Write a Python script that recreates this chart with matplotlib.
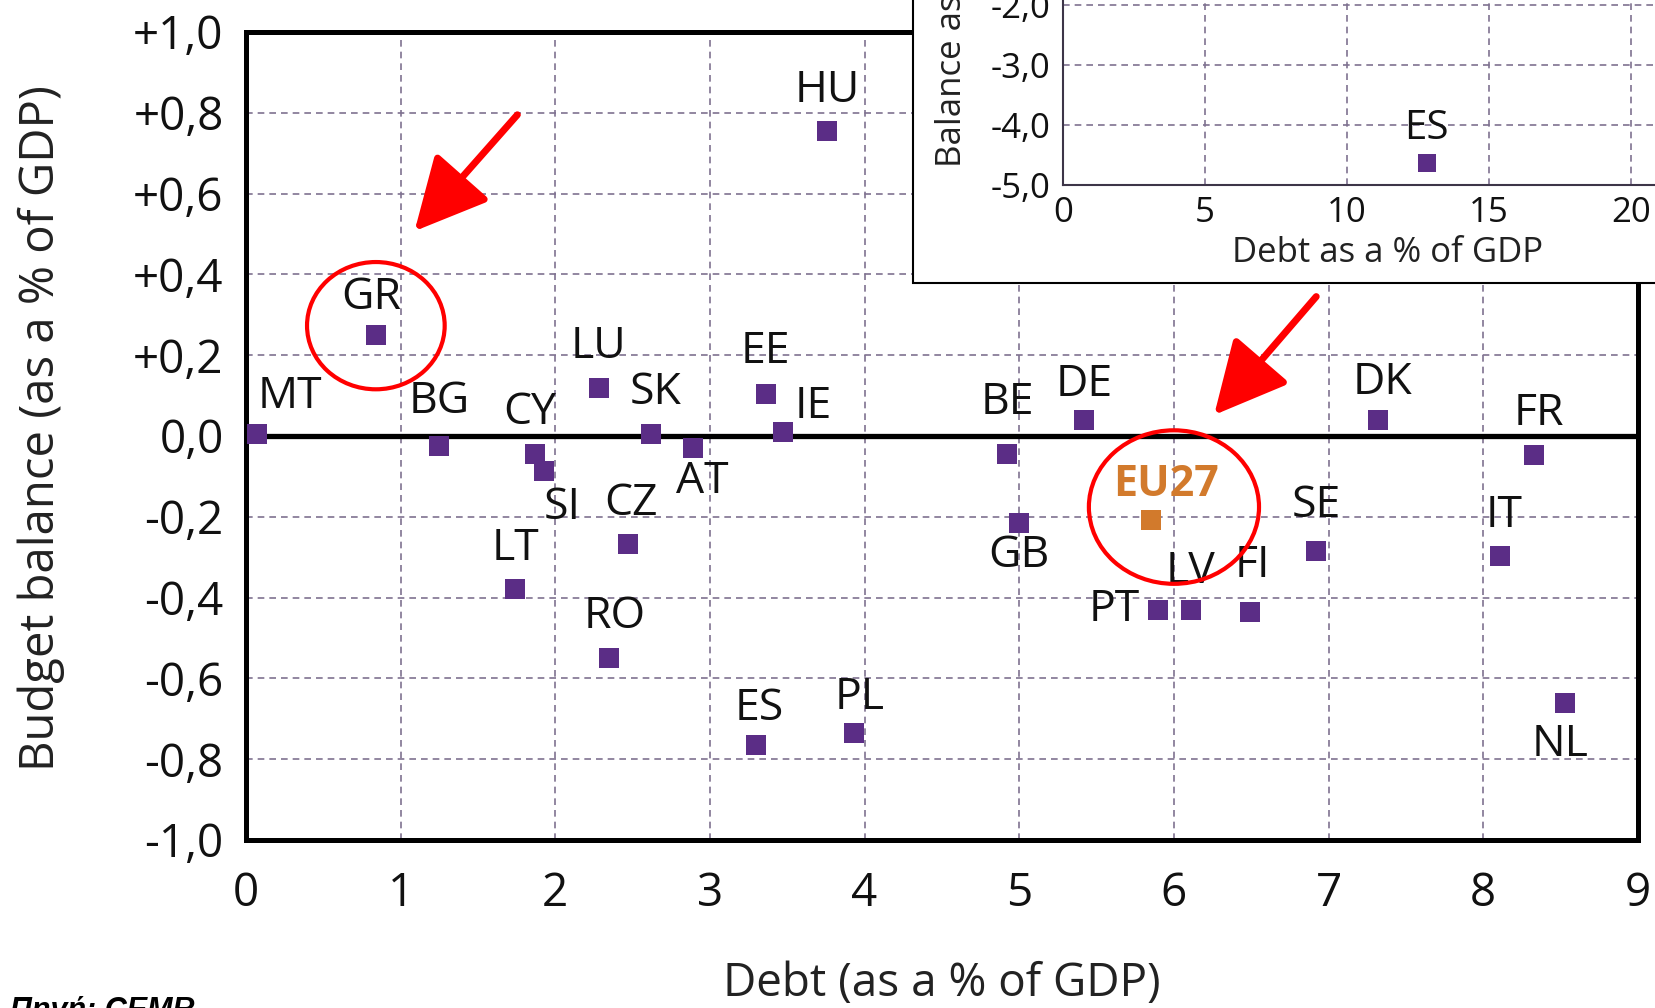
import matplotlib.pyplot as plt
from matplotlib.patches import Ellipse, Rectangle

plt.rcParams['font.family'] = ['Open Sans', 'DejaVu Sans']

# main chart data
countries = ["MT", "GR", "BG", "CY", "SI", "LU", "SK", "AT", "CZ", "LT", "RO",
             "EE", "IE", "HU", "ES", "PL", "BE", "GB", "DE", "PT", "LV", "FI",
             "SE", "DK", "FR", "IT", "NL"]
debt = [0.07, 0.84, 1.25, 1.87, 1.93, 2.28, 2.62, 2.89, 2.47, 1.74, 2.35,
        3.36, 3.47, 3.76, 3.30, 3.93, 4.92, 5.00, 5.42, 5.90, 6.11, 6.49,
        6.92, 7.32, 8.33, 8.11, 8.53]
balance = [0.005, 0.25, -0.026, -0.045, -0.086, 0.118, 0.005, -0.03, -0.267,
           -0.38, -0.55, 0.105, 0.01, 0.754, -0.764, -0.735, -0.045, -0.215,
           0.04, -0.43, -0.43, -0.435, -0.285, 0.04, -0.047, -0.296, -0.66]
eu_label = "EU27"
eu_debt = 5.85
eu_balance = -0.207

x_ticks = [0, 1, 2, 3, 4, 5, 6, 7, 8, 9]
y_ticks = [-1.0, -0.8, -0.6, -0.4, -0.2, 0.0, 0.2, 0.4, 0.6, 0.8, 1.0]
y_tick_labels = ["-1,0", "-0,8", "-0,6", "-0,4", "-0,2", "0,0",
                 "+0,2", "+0,4", "+0,6", "+0,8", "+1,0"]

# inset data
inset_labels = ["ES"]
inset_debt = [12.8]
inset_balance = [-4.64]
inset_x_ticks = [0, 5, 10, 15, 20, 25, 30]
inset_y_ticks = [-5, -4, -3, -2, -1, 0]
inset_y_tick_labels = ["-5,0", "-4,0", "-3,0", "-2,0", "-1,0", "0,0"]

# label offsets in points (style only)
label_offsets = {
    "MT": (24, 27), "GR": (-3, 27), "BG": (0, 32), "CY": (-4, 30),
    "SI": (13, -27), "LU": (0, 30), "SK": (3, 30), "AT": (7, -24),
    "CZ": (2, 29), "LT": (0, 29), "RO": (4, 30), "EE": (0, 30),
    "IE": (22, 18), "HU": (0, 29), "ES": (2, 26), "PL": (4, 25),
    "BE": (0, 37), "GB": (0, -24), "DE": (0, 25), "PT": (-32, 0),
    "LV": (0, 27), "FI": (2, 33), "SE": (0, 33), "DK": (3, 27),
    "FR": (3, 30), "IT": (3, 29), "NL": (-4, -30),
}

purple = "#5B2D86"
orange = "#D27A2C"
gridc = "#7f7290"

fig = plt.figure(figsize=(16.55, 10.08), dpi=100)
ax = fig.add_axes([0.1486, 0.1667, 0.8411, 0.8016])

ax.scatter(debt, balance, marker="s", s=225, color=purple, zorder=4, linewidths=0)
ax.scatter([eu_debt], [eu_balance], marker="s", s=225, color=orange, zorder=4, linewidths=0)
for name, x, y in zip(countries, debt, balance):
    ax.annotate(name, (x, y), xytext=label_offsets[name], textcoords="offset points",
                ha="center", va="center", fontsize=32, color="#111111", zorder=5)
ax.annotate(eu_label, (eu_debt, eu_balance), xytext=(11, 25), textcoords="offset points",
            ha="center", va="center", fontsize=31, fontweight="bold", color=orange, zorder=5)

ax.axhline(0, color="black", lw=3.8, zorder=3)
ax.set_xlim(0, 9)
ax.set_ylim(-1, 1)
ax.set_xticks(x_ticks)
ax.set_yticks(y_ticks)
ax.set_yticklabels(y_tick_labels)
ax.tick_params(length=0, labelsize=33, colors="#111111")
ax.tick_params(axis="x", pad=22)
ax.tick_params(axis="y", pad=16)
ax.grid(True, color=gridc, lw=1.2, linestyle=(0, (4, 3)), zorder=1)
ax.set_axisbelow(True)
for s in ax.spines.values():
    s.set_linewidth(3.6)
    s.set_color("black")

ax.set_xlabel("Debt (as a % of GDP)", fontsize=33, color="#222222")
ax.set_ylabel("Budget balance (as a % of GDP)", fontsize=34, color="#222222")
ax.xaxis.set_label_coords(0.5, -0.15)
ax.yaxis.set_label_coords(-0.13, 0.51)

# red highlights around GR and EU27
gr_x, gr_y = debt[countries.index("GR")], balance[countries.index("GR")]
ax.add_patch(Ellipse((gr_x, gr_y + 0.023), 0.89, 0.315, fill=False,
                     edgecolor="red", lw=3, zorder=6, clip_on=False))
ax.add_patch(Ellipse((eu_debt + 0.15, eu_balance + 0.031), 1.10, 0.38, fill=False,
                     edgecolor="red", lw=3, zorder=6, clip_on=False))
arrow = dict(arrowstyle="-|>,head_length=1.4,head_width=0.7", color="red", lw=5,
             mutation_scale=32, shrinkA=0, shrinkB=0)
ax.annotate("", xy=(gr_x + 0.25, gr_y + 0.257), xytext=(gr_x + 0.915, gr_y + 0.545),
            arrowprops=arrow, zorder=6)
ax.annotate("", xy=(eu_debt + 0.41, eu_balance + 0.259), xytext=(eu_debt + 1.07, eu_balance + 0.552),
            arrowprops=arrow, zorder=6)

# inset panel
panel = Rectangle((0.5517, 0.7192), 0.6, 0.5, transform=fig.transFigure,
                  facecolor="white", edgecolor="black", lw=1.5, zorder=2)
fig.patches.append(panel)

ins = fig.add_axes([0.6423, 0.8165, 0.5148, 0.2976])
ins.set_zorder(3)
ins.scatter(inset_debt, inset_balance, marker="s", s=180, color=purple, linewidths=0, zorder=4)
for name, x, y in zip(inset_labels, inset_debt, inset_balance):
    ins.annotate(name, (x, y), xytext=(0, 25), textcoords="offset points",
                 ha="center", va="center", fontsize=29, color="#111111")
ins.set_xlim(0, 30)
ins.set_ylim(-5, 0)
ins.set_xticks(inset_x_ticks)
ins.set_yticks(inset_y_ticks)
ins.set_yticklabels(inset_y_tick_labels)
ins.tick_params(length=0, labelsize=25, colors="#111111")
ins.tick_params(axis="x", pad=8)
ins.tick_params(axis="y", pad=9)
ins.grid(True, color=gridc, lw=1.2, linestyle=(0, (4, 3)))
ins.set_axisbelow(True)
for side in ["top", "right"]:
    ins.spines[side].set_visible(False)
for side in ["left", "bottom"]:
    ins.spines[side].set_color("#3d3548")
    ins.spines[side].set_linewidth(1.5)
ins.set_xlabel("Debt as a % of GDP", fontsize=25, color="#222222")
ins.set_ylabel("Balance as a % of GDP", fontsize=25, color="#222222")
ins.xaxis.set_label_coords(0.381, -0.17)
ins.yaxis.set_label_coords(-0.11, 0.66)

fig.text(0.006, -0.011, "Πηγή: CEMR", fontsize=22, fontweight="bold", fontstyle="italic",
         family=["Liberation Sans", "DejaVu Sans"], va="baseline", ha="left")

fig.savefig("out.png", dpi=100)
